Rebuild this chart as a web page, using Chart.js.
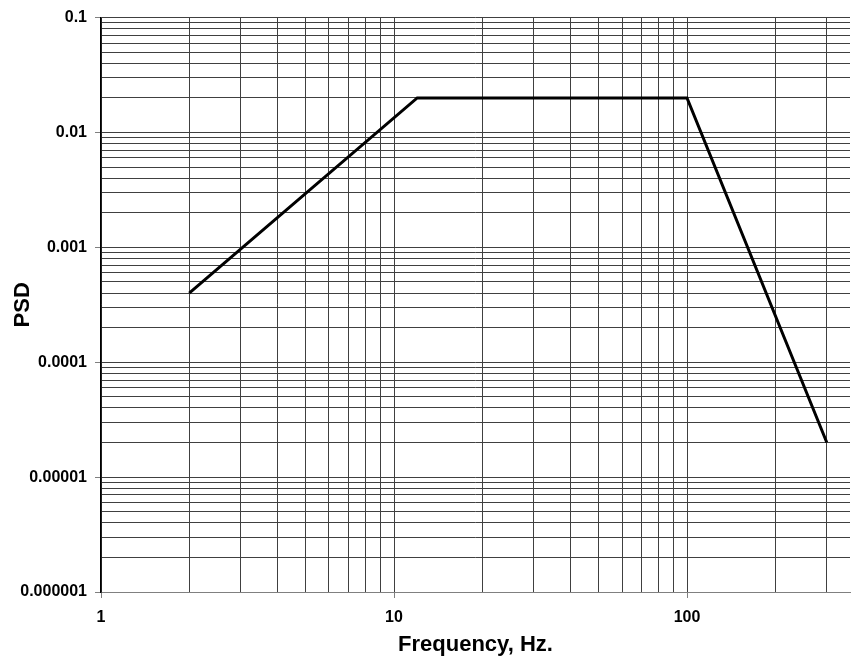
<!DOCTYPE html>
<html>
<head>
<meta charset="utf-8">
<script src="https://cdn.jsdelivr.net/npm/chart.js@4/dist/chart.umd.min.js"></script>
<style>
  html, body { margin: 0; padding: 0; background: #fff; }
  #wrap { width: 856px; height: 660px; }
</style>
</head>
<body>
<div id="wrap"><canvas id="psdChart" width="856" height="660"></canvas></div>
<script>
// PSD profile points
const freq = [2, 12, 100, 300];
const psd = [0.0004, 0.02, 0.02, 0.00002];

// axis ticks
const xMajorTicks = [1, 10, 100];
const xTickLabels = ['1', '10', '100'];
const yMajorTicks = [0.000001, 0.00001, 0.0001, 0.001, 0.01, 0.1];
const yTickLabels = ['0.000001', '0.00001', '0.0001', '0.001', '0.01', '0.1'];

function majorIndex(value, majors) {
  for (let i = 0; i < majors.length; i++) {
    if (Math.abs(Math.log10(value) - Math.log10(majors[i])) < 1e-9) return i;
  }
  return -1;
}

// 1..9 steps in each decade, up to max
function decadeTicks(majors, max) {
  const out = [];
  majors.forEach(function(m) {
    for (let k = 1; k <= 9; k++) {
      const v = parseFloat((m * k).toPrecision(6));
      if (v <= max * 1.000001) out.push({ value: v });
    }
  });
  return out;
}

const gridColor = '#404040';
const tickFont = { family: '"Liberation Sans", Arial, sans-serif', size: 16, weight: 'bold' };
const titleFont = { family: '"Liberation Sans", Arial, sans-serif', size: 22, weight: 'bold' };

const ctx = document.getElementById('psdChart');
new Chart(ctx, {
  type: 'line',
  data: {
    datasets: [{
      label: 'PSD',
      data: freq.map((f, i) => ({ x: f, y: psd[i] })),
      borderColor: '#000',
      borderWidth: 3,
      pointRadius: 0,
      tension: 0,
      fill: false
    }]
  },
  options: {
    responsive: false,
    animation: false,
    layout: { padding: { top: 15, right: 6, left: 0, bottom: 0 } },
    plugins: {
      legend: { display: false },
      tooltip: { enabled: false }
    },
    scales: {
      x: {
        type: 'logarithmic',
        min: 1,
        max: 360,
        afterBuildTicks: function(scale) {
          scale.ticks = decadeTicks(xMajorTicks, 360);
        },
        afterFit: function(scale) { scale.height = 68; },
        ticks: {
          autoSkip: false,
          maxRotation: 0,
          padding: 10,
          color: '#000',
          font: tickFont,
          callback: function(value) {
            const i = majorIndex(value, xMajorTicks);
            return i >= 0 ? xTickLabels[i] : '';
          }
        },
        grid: {
          color: gridColor,
          lineWidth: 1,
          tickLength: 6,
          tickColor: function(c) {
            return c.tick && majorIndex(c.tick.value, xMajorTicks) >= 0 ? '#808080' : 'rgba(0,0,0,0)';
          }
        },
        border: { color: '#808080', width: 1 },
        title: {
          display: true,
          text: 'Frequency, Hz.',
          color: '#000',
          font: titleFont,
          padding: { top: 0, bottom: 2 }
        }
      },
      y: {
        type: 'logarithmic',
        min: 0.000001,
        max: 0.1,
        afterBuildTicks: function(scale) {
          scale.ticks = decadeTicks(yMajorTicks, 0.1);
        },
        afterFit: function(scale) { scale.width = 101; },
        ticks: {
          autoSkip: false,
          padding: 8,
          color: '#000',
          font: tickFont,
          callback: function(value) {
            const i = majorIndex(value, yMajorTicks);
            return i >= 0 ? yTickLabels[i] : '';
          }
        },
        grid: {
          color: gridColor,
          lineWidth: 1,
          tickLength: 6,
          tickColor: function(c) {
            return c.tick && majorIndex(c.tick.value, yMajorTicks) >= 0 ? '#808080' : 'rgba(0,0,0,0)';
          }
        },
        border: { color: '#000', width: 1.5 },
        title: {
          display: true,
          text: 'PSD',
          color: '#000',
          font: titleFont,
          padding: { top: 10, bottom: 0 }
        }
      }
    }
  }
});
</script>
</body>
</html>
